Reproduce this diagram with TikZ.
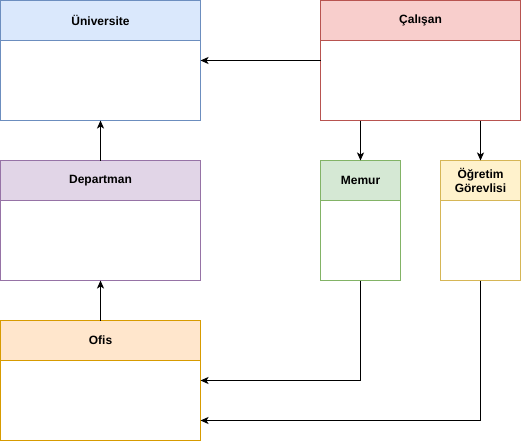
\documentclass[tikz,border=0pt]{standalone}
\usepackage{fontspec}
\setmainfont{Liberation Sans}
\usepackage{tikz}
\usetikzlibrary{arrows.meta,positioning,calc}
\definecolor{unifill}{HTML}{DAE8FC}\definecolor{uniline}{HTML}{6C8EBF}
\definecolor{calfill}{HTML}{F8CECC}\definecolor{calline}{HTML}{B85450}
\definecolor{depfill}{HTML}{E1D5E7}\definecolor{depline}{HTML}{9673A6}
\definecolor{memfill}{HTML}{D5E8D4}\definecolor{memline}{HTML}{82B366}
\definecolor{ogrfill}{HTML}{FFF2CC}\definecolor{ogrline}{HTML}{D6B656}
\definecolor{ofsfill}{HTML}{FFE6CC}\definecolor{ofsline}{HTML}{D79B00}
\tikzset{
  cls/.style={draw, fill=white, line width=1pt, minimum width=200pt,
              minimum height=120pt, inner sep=0pt, outer sep=0pt},
  hdr/.style={draw, line width=1pt, minimum height=40pt, inner sep=0pt,
              outer sep=0pt, align=center, anchor=north,
              font=\fontsize{12}{14}\selectfont\bfseries},
  conn/.style={-{Stealth[length=8pt, width=7pt, inset=2pt]}, line width=1pt},
}
\begin{document}
\begin{tikzpicture}[x=1pt, y=-1pt, node distance=40pt and 120pt]
    \useasboundingbox (0,0) rectangle (521,441);
    % class boxes
    \node[cls, draw=uniline] (uni) at (100.5,60.5) {};
    \node[cls, draw=calline, right=of uni] (cal) {};
    \node[cls, draw=depline, below=of uni] (dep) {};
    \node[cls, draw=ofsline, below=of dep] (ofis) {};
    \node[cls, draw=memline, minimum width=80pt,
          below right=40pt and 0pt of cal.south west] (mem) {};
    \node[cls, draw=ogrline, minimum width=80pt,
          below left=40pt and 0pt of cal.south east] (ogr) {};
    % headers
    \node[hdr, draw=uniline, fill=unifill, minimum width=200pt] (unih) at (uni.north) {Üniversite};
    \node[hdr, draw=calline, fill=calfill, minimum width=200pt] (calh) at (cal.north) {Çalışan};
    \node[hdr, draw=depline, fill=depfill, minimum width=200pt] (deph) at (dep.north) {Departman};
    \node[hdr, draw=ofsline, fill=ofsfill, minimum width=200pt] (ofish) at (ofis.north) {Ofis};
    \node[hdr, draw=memline, fill=memfill, minimum width=80pt] (memh) at (mem.north) {Memur};
    \node[hdr, draw=ogrline, fill=ogrfill, minimum width=80pt] (ogrh) at (ogr.north) {Öğretim\\Görevlisi};
    % connectors
    \draw[conn] (cal.west) -- (uni.east);
    \draw[conn] (dep.north) -- (uni.south);
    \draw[conn] (ofis.north) -- (dep.south);
    \draw[conn] (mem.north |- cal.south) -- (mem.north);
    \draw[conn] (ogr.north |- cal.south) -- (ogr.north);
    \draw[conn] (mem.south) |- (ofis.east);
    \coordinate (ofisin) at ($(ofis.east)+(0,40)$);
    \draw[conn] (ogr.south) |- (ofisin);
\end{tikzpicture}
\end{document}
